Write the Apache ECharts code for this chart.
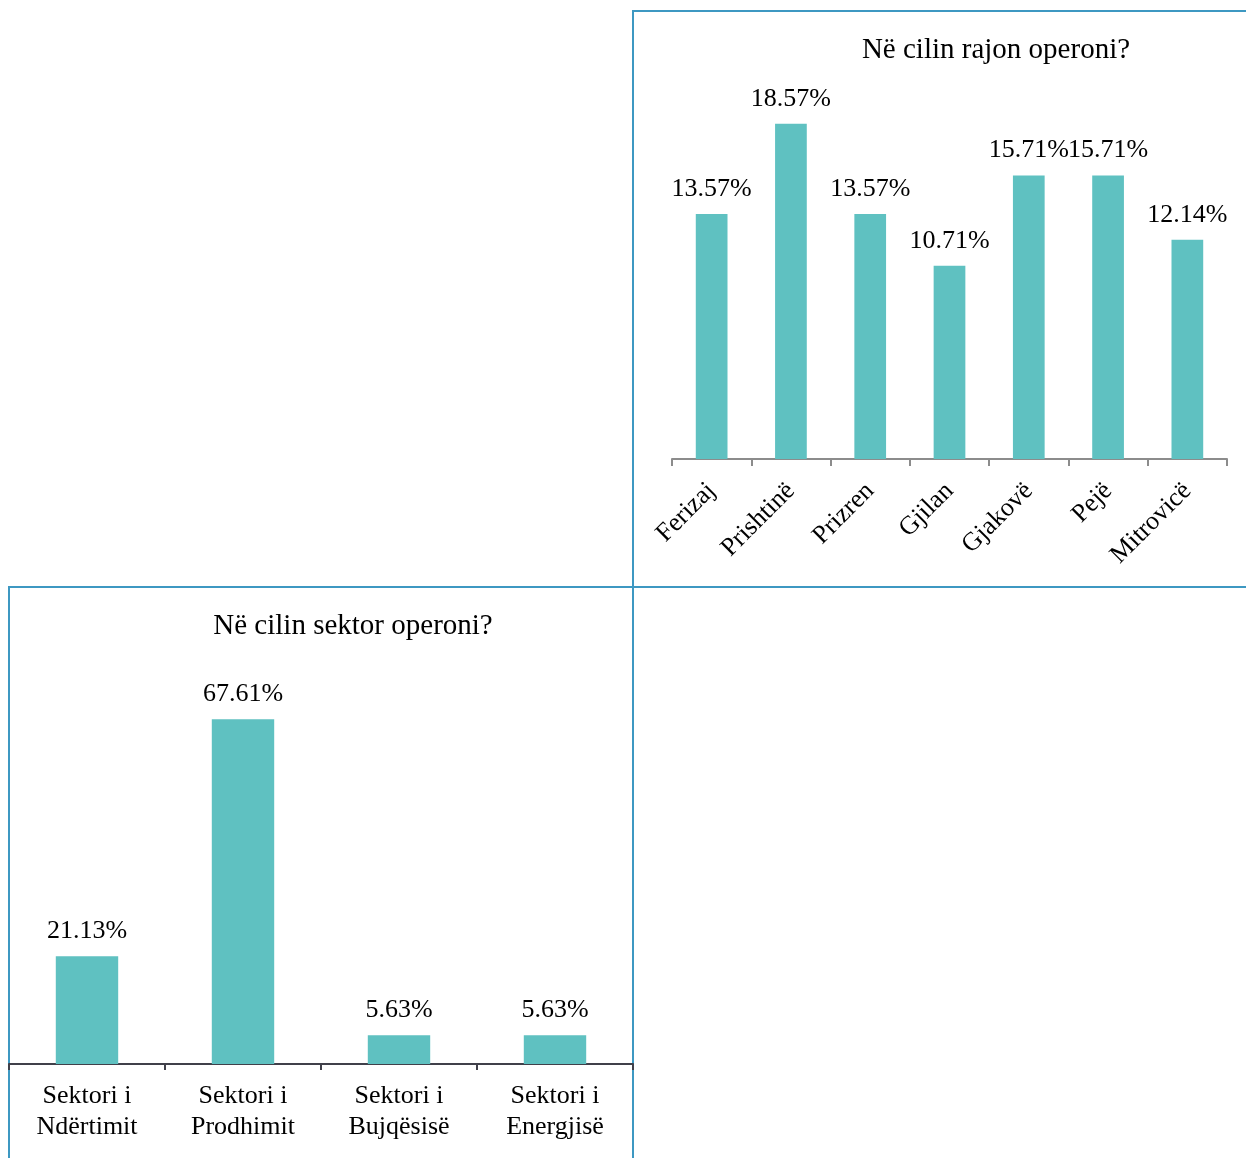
<!DOCTYPE html>
<html>
<head>
<meta charset="utf-8">
<script src="https://cdn.jsdelivr.net/npm/echarts@6/dist/echarts.min.js"></script>
<style>
html,body{margin:0;padding:0;background:#fff;}
#c{width:1246px;height:1158px;}
</style>
</head>
<body>
<div id="c"></div>
<script>
const regionTitle = 'Në cilin rajon operoni?';
const regionCategories = ['Ferizaj', 'Prishtinë', 'Prizren', 'Gjilan', 'Gjakovë', 'Pejë', 'Mitrovicë'];
const regionValues = [13.57, 18.57, 13.57, 10.71, 15.71, 15.71, 12.14];

const sectorTitle = 'Në cilin sektor operoni?';
const sectorCategories = ['Sektori i\nNdërtimit', 'Sektori i\nProdhimit', 'Sektori i\nBujqësisë', 'Sektori i\nEnergjisë'];
const sectorValues = [21.13, 67.61, 5.63, 5.63];

const FONT = '"Liberation Serif", "Times New Roman", serif';
const BAR = '#5fc1c1';
const BORDER = '#3d98c2';

const chart = echarts.init(document.getElementById('c'), null, {renderer: 'canvas'});
const labelFmt = p => p.value.toFixed(2) + '%';

const option = {
  animation: false,
  backgroundColor: '#ffffff',
  title: [
    {text: regionTitle, left: 991, top: 31, textAlign: 'center',
     textStyle: {fontFamily: FONT, fontSize: 29, fontWeight: 'normal', color: '#000'}},
    {text: sectorTitle, left: 348, top: 607, textAlign: 'center',
     textStyle: {fontFamily: FONT, fontSize: 29, fontWeight: 'normal', color: '#000'}}
  ],
  grid: [
    {left: 672, right: 19, top: 98, bottom: 699, containLabel: false},
    {left: 9, right: 613, top: 656, bottom: 94, containLabel: false}
  ],
  xAxis: [
    {type: 'category', gridIndex: 0, data: regionCategories, boundaryGap: true,
     axisLine: {lineStyle: {color: '#8c8c8c', width: 2}},
     axisTick: {show: true, length: 7, lineStyle: {color: '#8c8c8c', width: 2}},
     axisLabel: {rotate: 45, margin: 28, interval: 0, fontFamily: FONT, fontSize: 26, color: '#000'}},
    {type: 'category', gridIndex: 1, data: sectorCategories, boundaryGap: true,
     axisLine: {lineStyle: {color: '#40404a', width: 2}},
     axisTick: {show: true, length: 6, lineStyle: {color: '#40404a', width: 2}},
     axisLabel: {margin: 17, interval: 0, fontFamily: FONT, fontSize: 26, lineHeight: 31, color: '#000'}}
  ],
  yAxis: [
    {type: 'value', gridIndex: 0, min: 0, max: 20, show: false, splitLine: {show: false}},
    {type: 'value', gridIndex: 1, min: 0, max: 80, show: false, splitLine: {show: false}}
  ],
  series: [
    {type: 'bar', xAxisIndex: 0, yAxisIndex: 0, data: regionValues, barWidth: '40%',
     itemStyle: {color: BAR},
     label: {show: true, position: 'top', distance: 12, formatter: labelFmt,
             fontFamily: FONT, fontSize: 26, color: '#000'}},
    {type: 'bar', xAxisIndex: 1, yAxisIndex: 1, data: sectorValues, barWidth: '40%',
     itemStyle: {color: BAR},
     label: {show: true, position: 'top', distance: 12, formatter: labelFmt,
             fontFamily: FONT, fontSize: 26, color: '#000'}}
  ],
  graphic: [
    {type: 'polyline', shape: {points: [[1246, 11], [633, 11], [633, 587], [1246, 587]]},
     style: {stroke: BORDER, lineWidth: 2, fill: null}, silent: true},
    {type: 'polyline', shape: {points: [[9, 1158], [9, 587], [633, 587], [633, 1158]]},
     style: {stroke: BORDER, lineWidth: 2, fill: null}, silent: true}
  ]
};
chart.setOption(option);
</script>
</body>
</html>
